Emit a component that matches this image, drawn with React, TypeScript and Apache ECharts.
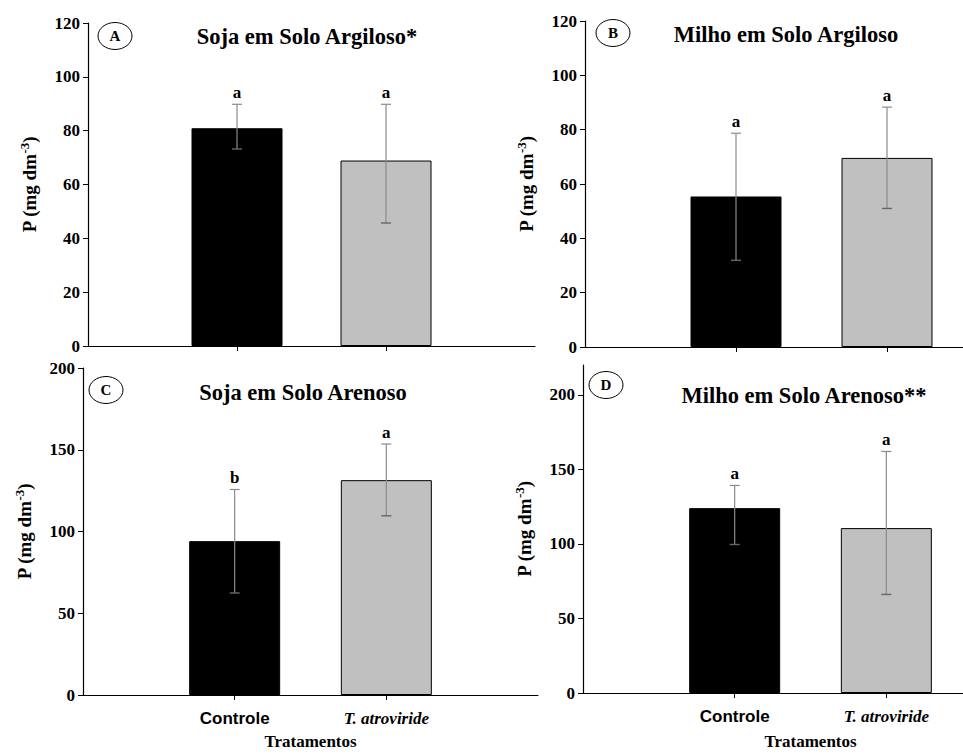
import React, { useEffect, useRef } from 'react';
import * as echarts from 'echarts';

// ---- data ----
const treatments = ['Controle', 'T. atroviride'];
const meansA = [80.9, 68.9];
const upperA = [89.8, 89.8];
const lowerA = [73.2, 45.7];
const lettersA = ['a', 'a'];
const meansB = [55.4, 69.6];
const upperB = [78.7, 88.3];
const lowerB = [31.9, 51.0];
const lettersB = ['a', 'a'];
const meansC = [94.1, 131.4];
const upperC = [125.7, 153.5];
const lowerC = [62.4, 109.6];
const lettersC = ['b', 'a'];
const meansD = [124.0, 110.6];
const upperD = [139.2, 162.0];
const lowerD = [99.6, 66.1];
const lettersD = ['a', 'a'];
const ticksArg = [0, 20, 40, 60, 80, 100, 120];
const ticksAre = [0, 50, 100, 150, 200];
const titles = ['Soja em Solo Argiloso*', 'Milho em Solo Argiloso', 'Soja em Solo Arenoso', 'Milho em Solo Arenoso**'];
const panelTags = ['A', 'B', 'C', 'D'];
const yName = 'P (mg dm';
const xName = 'Tratamentos';

const SERIF = "'Liberation Serif', 'Times New Roman', serif";
const SANS = "'Liberation Sans', Arial, sans-serif";

export default function App() {
  const ref = useRef<HTMLDivElement>(null);
  useEffect(() => {
    document.body.style.margin = '0';
    const chart = echarts.init(ref.current!, null, { renderer: 'svg' });

    const panels = [
      { means: meansA, upper: upperA, lower: lowerA, letters: lettersA, ticks: ticksArg, max: 120, grid: { left: 88, top: 23, width: 447, height: 323 }, showX: false, tag: { x: 115, y: 36 }, title: { x: 307, y: 36 }, nameGap: 40 },
      { means: meansB, upper: upperB, lower: lowerB, letters: lettersB, ticks: ticksArg, max: 120, grid: { left: 585, top: 21, width: 453, height: 326 }, showX: false, tag: { x: 613, y: 33 }, title: { x: 786, y: 34 }, nameGap: 40 },
      { means: meansC, upper: upperC, lower: lowerC, letters: lettersC, ticks: ticksAre, max: 200, grid: { left: 83, top: 368, width: 455, height: 327 }, showX: true, tag: { x: 106, y: 390 }, title: { x: 303, y: 392 }, nameGap: 38 },
      { means: meansD, upper: upperD, lower: lowerD, letters: lettersD, ticks: ticksAre, max: 220, grid: { left: 583, top: 365, width: 455, height: 328 }, showX: true, tag: { x: 606, y: 385 }, title: { x: 804, y: 395 }, nameGap: 40 },
    ];

    const grid: any[] = [];
    const xAxis: any[] = [];
    const yAxis: any[] = [];
    const series: any[] = [];
    const graphic: any[] = [];

    panels.forEach((p, i) => {
      grid.push({ ...p.grid, containLabel: false, outerBoundsMode: 'none' });
      xAxis.push({
        type: 'value', gridIndex: i, min: 0, max: 3,
        axisLine: { show: true, lineStyle: { color: '#000', width: 1.2 } },
        axisTick: { show: true, length: 5, customValues: [1, 2], lineStyle: { color: '#000' } },
        axisLabel: {
          show: p.showX, customValues: [1, 2], margin: 15,
          formatter: (v: number) => (v === 1 ? '{c|' + treatments[0] + '}' : '{t|' + treatments[1] + '}'),
          rich: {
            c: { fontFamily: SANS, fontWeight: 'bold', fontSize: 17, color: '#000' },
            t: { fontFamily: SERIF, fontWeight: 'bold', fontStyle: 'italic', fontSize: 17, color: '#000' },
          },
        },
        splitLine: { show: false },
        name: p.showX ? xName : '',
        nameLocation: 'middle', nameGap: p.nameGap,
        nameTextStyle: { fontFamily: SERIF, fontWeight: 'bold', fontSize: 17, color: '#000', lineHeight: 17 },
      });
      yAxis.push({
        type: 'value', gridIndex: i, min: 0, max: p.max,
        axisLine: { show: true, lineStyle: { color: '#000', width: 1.2 } },
        axisTick: { show: true, length: 5, customValues: p.ticks, lineStyle: { color: '#000' } },
        axisLabel: { customValues: p.ticks, fontFamily: SERIF, fontWeight: 'bold', fontSize: 17, color: '#000', margin: 8 },
        splitLine: { show: false },
        name: '{b|' + yName + '}{s|-3}{b|)}',
        nameLocation: 'middle', nameRotate: 90, nameGap: 47,
        nameTextStyle: {
          rich: {
            b: { fontFamily: SERIF, fontWeight: 'bold', fontSize: 19, color: '#000' },
            s: { fontFamily: SERIF, fontWeight: 'bold', fontSize: 13, color: '#000', verticalAlign: 'top', padding: [0, 0, 10, 0] },
          },
        },
      });
      series.push({
        type: 'bar', xAxisIndex: i, yAxisIndex: i, barWidth: 91,
        data: p.means.map((m, k) => ({
          value: [k + 1, m],
          itemStyle: { color: k === 0 ? '#000000' : '#c0c0c0', borderColor: '#000', borderWidth: 1 },
        })),
      });
      const letters = p.letters;
      series.push({
        type: 'custom', xAxisIndex: i, yAxisIndex: i, z: 5,
        data: p.means.map((m, k) => [k + 1, p.upper[k], p.lower[k]]),
        renderItem: (params: any, api: any) => {
          const x = api.value(0), hi = api.value(1), lo = api.value(2);
          const top = api.coord([x, hi]);
          const bot = api.coord([x, lo]);
          const cw = 5;
          const ls = { stroke: '#8a8a8a', lineWidth: 1.2 };
          return {
            type: 'group',
            children: [
              { type: 'line', shape: { x1: top[0], y1: top[1], x2: bot[0], y2: bot[1] }, style: ls },
              { type: 'line', shape: { x1: top[0] - cw, y1: top[1], x2: top[0] + cw, y2: top[1] }, style: ls },
              { type: 'line', shape: { x1: bot[0] - cw, y1: bot[1], x2: bot[0] + cw, y2: bot[1] }, style: { stroke: '#666', lineWidth: 1.4 } },
              {
                type: 'text',
                style: {
                  x: top[0], y: top[1] - 3, text: letters[params.dataIndex],
                  align: 'center', verticalAlign: 'bottom',
                  fontFamily: SERIF, fontWeight: 'bold', fontSize: 17, fill: '#000',
                },
              },
            ],
          };
        },
      });
      graphic.push({
        type: 'ellipse', shape: { cx: p.tag.x, cy: p.tag.y, rx: 17, ry: 13.5 },
        style: { fill: 'none', stroke: '#000', lineWidth: 1 },
      });
      graphic.push({
        type: 'text',
        style: {
          x: p.tag.x, y: p.tag.y, text: panelTags[i], align: 'center', verticalAlign: 'middle',
          fontFamily: SERIF, fontWeight: 'bold', fontSize: 15, fill: '#000',
        },
      });
      graphic.push({
        type: 'text',
        style: {
          x: p.title.x, y: p.title.y, text: titles[i], align: 'center', verticalAlign: 'middle',
          fontFamily: SERIF, fontWeight: 'bold', fontSize: 22.5, fill: '#000',
        },
      });
    });

    chart.setOption({ animation: false, grid, xAxis, yAxis, series, graphic });
    return () => chart.dispose();
  }, []);
  return <div ref={ref} style={{ width: 963, height: 755 }} />;
}
